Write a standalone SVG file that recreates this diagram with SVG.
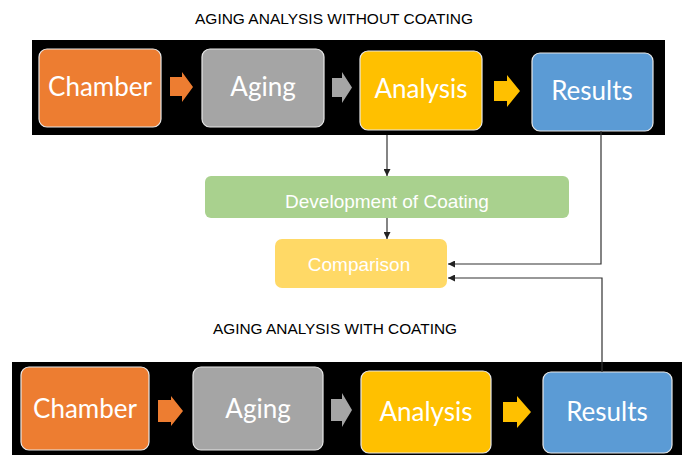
<svg xmlns="http://www.w3.org/2000/svg" width="682" height="455" viewBox="0 0 682 455">
<defs>
<marker id="ah" viewBox="0 0 10 10" refX="10" refY="5" markerWidth="7" markerHeight="7" markerUnits="userSpaceOnUse" orient="auto">
<path d="M0,0 L10,5 L0,10 z" fill="#222"/>
</marker>
</defs>
<style>
.title{font-family:"Liberation Sans",Arial,sans-serif;font-size:15.5px;fill:#000;text-anchor:middle}
.nt{font-family:Lato,"Open Sans",sans-serif;font-size:26px;fill:#fff;text-anchor:middle}
.mt{font-family:"Liberation Sans",Arial,sans-serif;font-size:19px;fill:#fff;text-anchor:middle}
.node{stroke:#e8e8e8;stroke-width:1.2}
.band{fill:#000}
.conn{fill:none;stroke:#333;stroke-width:1.2}
</style>
<rect width="682" height="455" fill="#fff"/>
<text class="title" x="334" y="23.5" textLength="278" lengthAdjust="spacingAndGlyphs">AGING ANALYSIS WITHOUT COATING</text>
<text class="title" x="335" y="333.5" textLength="244" lengthAdjust="spacingAndGlyphs">AGING ANALYSIS WITH COATING</text>
<rect class="band" x="32" y="40" width="633" height="95"/>
<rect class="band" x="12" y="362" width="670" height="93"/>
<g id="top-chamber"><rect class="node" x="39" y="49" width="122" height="78" rx="8" fill="#ED7D31"/><text class="nt" x="100" y="96">Chamber</text></g>
<g id="top-aging"><rect class="node" x="202" y="49" width="122" height="78" rx="8" fill="#A5A5A5"/><text class="nt" x="263" y="96">Aging</text></g>
<g id="top-analysis"><rect class="node" x="360" y="51" width="122" height="79" rx="8" fill="#FFC000"/><text class="nt" x="421" y="98">Analysis</text></g>
<g id="top-results"><rect class="node" x="532" y="53" width="121" height="78" rx="8" fill="#5B9BD5"/><text class="nt" x="592" y="100">Results</text></g>
<g id="bot-chamber"><rect class="node" x="21" y="367" width="128" height="83" rx="8" fill="#ED7D31"/><text class="nt" x="85" y="418">Chamber</text></g>
<g id="bot-aging"><rect class="node" x="193" y="367" width="130" height="83" rx="8" fill="#A5A5A5"/><text class="nt" x="258" y="418">Aging</text></g>
<g id="bot-analysis"><rect class="node" x="361" y="371" width="130" height="82" rx="8" fill="#FFC000"/><text class="nt" x="426" y="421">Analysis</text></g>
<g id="bot-results"><rect class="node" x="543" y="372" width="129" height="81" rx="8" fill="#5B9BD5"/><text class="nt" x="607" y="421">Results</text></g>
<g id="development"><rect x="205" y="176" width="364" height="42" rx="6" fill="#A9D18E"/><text class="mt" x="387" y="208">Development of Coating</text></g>
<g id="comparison"><rect x="275" y="239" width="172" height="49" rx="7" fill="#FFD966"/><text class="mt" x="359" y="271">Comparison</text></g>
<g id="block-arrows">
<path d="M170,77 H182 V72 L193,87 L182,102 V96 H170 Z" fill="#ED7D31"/>
<path d="M332,78 H342 V72 L352,87.5 L342,103 V97 H332 Z" fill="#A5A5A5"/>
<path d="M494,81 H507 V75 L520,91 L507,107 V101 H494 Z" fill="#FFC000"/>
<path d="M158,400 H171 V396 L183,411 L171,426 V422 H158 Z" fill="#ED7D31"/>
<path d="M331,399 H342 V393 L352,410 L342,427 V421 H331 Z" fill="#A5A5A5"/>
<path d="M503,402 H517 V396 L531,412 L517,428 V422 H503 Z" fill="#FFC000"/>
</g>
<g id="connectors">
<path class="conn" d="M387,135 V176" marker-end="url(#ah)"/>
<path class="conn" d="M387,218 V239" marker-end="url(#ah)"/>
<path class="conn" d="M601,131 V264 H448" marker-end="url(#ah)"/>
<path class="conn" d="M602,372 V278 H448" marker-end="url(#ah)"/>
</g>
</svg>
